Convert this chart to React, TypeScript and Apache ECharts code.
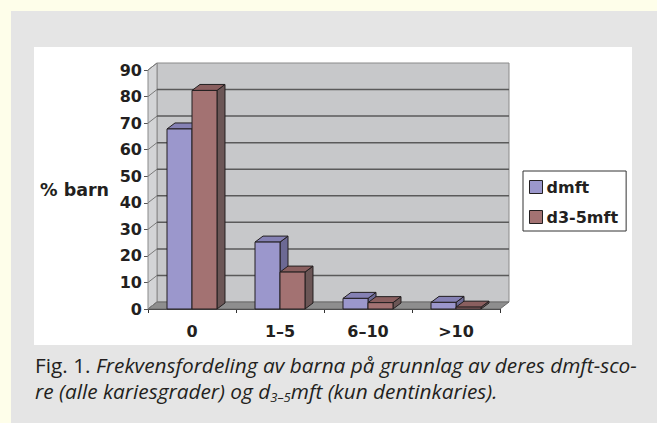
import React, { useEffect, useRef } from "react";
import * as echarts from "echarts";

const categories = ["0", "1–5", "6–10", ">10"];
const dmft = [67.8, 25.2, 4.0, 2.5];
const d35mft = [82.3, 13.9, 2.4, 0.7];
const yTicks = [0, 10, 20, 30, 40, 50, 60, 70, 80, 90];
const seriesNames = ["dmft", "d3-5mft"];

const DX = 9; // wall depth
const DY = 7;
const BDX = 8; // bar depth
const BDY = 6;

const barColors = [
  { front: "#9b97cc", top: "#8581b4", side: "#6c6994" },
  { front: "#a37272", top: "#8a5f5f", side: "#6b5656" },
];

export default function App() {
  const ref = useRef<HTMLDivElement>(null);
  useEffect(() => {
    document.body.style.margin = "0";
    const chart = echarts.init(ref.current!, null, { renderer: "svg" });

    const frameItem = (params: any, api: any) => {
      const cs = params.coordSys;
      const v = api.value(0);
      const y = api.coord([0, v])[1];
      const x0 = cs.x;
      const x1 = cs.x + cs.width;
      const children: any[] = [];
      if (params.dataIndex === 0) {
        const yTop = cs.y;
        const yBot = cs.y + cs.height;
        children.push({
          type: "rect",
          shape: { x: x0 + DX, y: yTop - DY, width: cs.width, height: cs.height },
          style: { fill: "#c7c8ca", stroke: "#8a8a8a", lineWidth: 1 },
        });
        children.push({
          type: "polygon",
          shape: { points: [[x0, yTop], [x0 + DX, yTop - DY], [x0 + DX, yBot - DY], [x0, yBot]] },
          style: { fill: "#d3d4d6", stroke: "#8a8a8a", lineWidth: 1 },
        });
        children.push({
          type: "polygon",
          shape: { points: [[x0, yBot], [x0 + DX, yBot - DY], [x1 + DX, yBot - DY], [x1, yBot]] },
          style: { fill: "#8e8e8e", stroke: "#6a6a6a", lineWidth: 1 },
        });
      }
      if (v > 0 && v < 90) {
        children.push({
          type: "line",
          shape: { x1: x0 + DX, y1: y - DY, x2: x1 + DX, y2: y - DY },
          style: { stroke: "#5a5a5a", lineWidth: 1.5 },
        });
      }
      children.push({
        type: "line",
        shape: { x1: x0, y1: y, x2: x0 + DX, y2: y - DY },
        style: { stroke: "#7a7a7a", lineWidth: 1 },
      });
      return { type: "group", children };
    };

    const barItem = (k: number) => (params: any, api: any) => {
      const ci = api.value(0);
      const val = api.value(1);
      const top = api.coord([ci, val]);
      const base = api.coord([ci, 0]);
      const band = api.size([1, 0])[0];
      const w = band * 0.284;
      const x = top[0] - w + k * w;
      const t = top[1];
      const b = base[1];
      const c = barColors[k];
      const st = { stroke: "#231f20", lineWidth: 1 };
      return {
        type: "group",
        children: [
          {
            type: "polygon",
            shape: { points: [[x + w, t], [x + w + BDX, t - BDY], [x + w + BDX, b - BDY], [x + w, b]] },
            style: { fill: c.side, ...st },
          },
          {
            type: "polygon",
            shape: { points: [[x, t], [x + BDX, t - BDY], [x + w + BDX, t - BDY], [x + w, t]] },
            style: { fill: c.top, ...st },
          },
          {
            type: "rect",
            shape: { x, y: t, width: w, height: b - t },
            style: { fill: c.front, ...st },
          },
        ],
      };
    };

    const chartFont = "DejaVu Sans";
    const capSize = 20.8;

    chart.setOption({
      animation: false,
      backgroundColor: "#fefeea",
      graphic: [
        { type: "rect", z: -10, shape: { x: 11, y: 11, width: 646, height: 412 }, style: { fill: "#e5e5e5" } },
        { type: "rect", z: -9, shape: { x: 34, y: 47, width: 598, height: 298 }, style: { fill: "#ffffff" } },
        {
          type: "text",
          left: 40,
          top: 181,
          style: {
            text: "% barn",
            fontFamily: chartFont,
            fontWeight: "bold",
            fontSize: 17.5,
            fill: "#231f20",
          },
        },
        {
          type: "text",
          x: 35,
          y: 352,
          style: {
            text:
              "{r|Fig. 1.} {i|Frekvensfordeling av barna på grunnlag av deres dmft-sco-}\n{i|re (alle kariesgrader) og d}{s|3–5}{i|mft (kun dentinkaries).}",
            fill: "#231f20",
            fontFamily: "Open Sans",
            fontSize: capSize,
            lineHeight: 26,
            rich: {
              r: { fontFamily: "Open Sans", fontSize: capSize, lineHeight: 26, fill: "#231f20" },
              i: { fontFamily: "Open Sans", fontSize: capSize, fontStyle: "italic", lineHeight: 26, fill: "#231f20" },
              s: { fontFamily: "Open Sans", fontSize: 13, fontStyle: "italic", lineHeight: 26, padding: [12, 0, 0, 0], fill: "#231f20" },
            },
          },
        },
      ],
      legend: {
        data: seriesNames,
        orient: "vertical",
        left: 523,
        top: 171,
        padding: [8, 8, 6, 6],
        itemGap: 14,
        itemWidth: 13,
        itemHeight: 13,
        icon: "rect",
        borderColor: "#333",
        borderWidth: 1,
        borderRadius: 0,
        itemStyle: { borderColor: "#231f20", borderWidth: 1 },
        textStyle: { fontFamily: chartFont, fontWeight: "bold", fontSize: 16, lineHeight: 16, color: "#231f20", padding: [0, 0, 0, -1] },
      },
      grid: { left: 148, top: 70, width: 352, height: 239, containLabel: false },
      xAxis: {
        type: "category",
        data: categories,
        axisLine: { show: true, lineStyle: { color: "#333", width: 1 } },
        axisTick: { show: true, length: 4, lineStyle: { color: "#333" } },
        axisLabel: { fontFamily: chartFont, fontWeight: "bold", fontSize: 16, color: "#231f20", margin: 14 },
        splitLine: { show: false },
      },
      yAxis: {
        type: "value",
        min: 0,
        max: 90,
        interval: 10,
        axisLine: { show: true, lineStyle: { color: "#777", width: 1 } },
        axisTick: { show: true, length: 4, lineStyle: { color: "#555" } },
        axisLabel: { fontFamily: chartFont, fontWeight: "bold", fontSize: 16, color: "#231f20", margin: 6 },
        splitLine: { show: false },
      },
      series: [
        {
          type: "custom",
          name: "frame",
          z: 1,
          silent: true,
          renderItem: frameItem,
          data: yTicks.map((v) => [v]),
          encode: { y: 0 },
        },
        {
          type: "custom",
          name: seriesNames[0],
          z: 3,
          itemStyle: { color: barColors[0].front },
          renderItem: barItem(0),
          data: dmft.map((v, i) => [i, v]),
          encode: { x: 0, y: 1 },
        },
        {
          type: "custom",
          name: seriesNames[1],
          z: 4,
          itemStyle: { color: barColors[1].front },
          renderItem: barItem(1),
          data: d35mft.map((v, i) => [i, v]),
          encode: { x: 0, y: 1 },
        },
      ],
    });
    return () => chart.dispose();
  }, []);
  return <div ref={ref} style={{ position: "fixed", left: 0, top: 0, width: 657, height: 423 }} />;
}
